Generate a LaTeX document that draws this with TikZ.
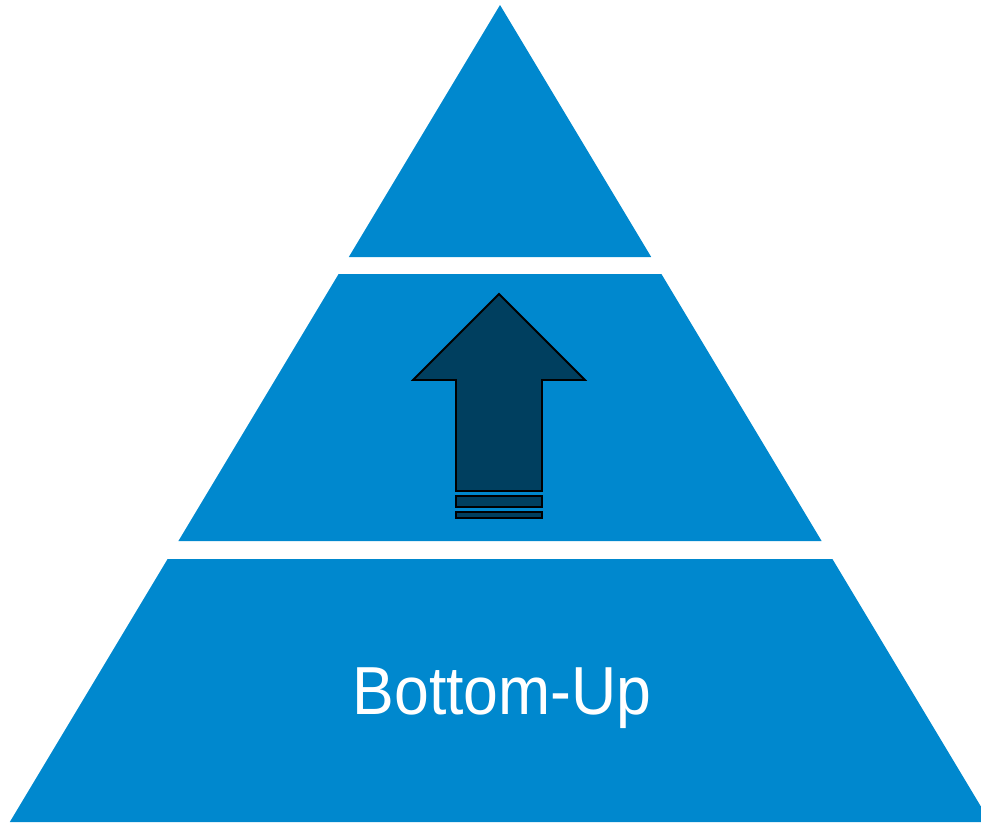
\documentclass[tikz,border=0pt]{standalone}
\usepackage{fontspec}
\setmainfont{Liberation Sans}
\definecolor{tierblue}{HTML}{0088CE}
\definecolor{arrowblue}{HTML}{003F5F}

\begin{document}
\begin{tikzpicture}[x=1pt, y=-1pt, tier/.style = {fill=tierblue}, uparrow/.style = {draw=black, line width=1.8pt, fill=arrowblue, line join=miter}]
    \useasboundingbox (0,0) rectangle (981,822);
    \clip (0,0) rectangle (981,822);
    % three tiers of one pyramid
    \fill[tier] (500,5) -- (651.2,257) -- (348.8,257) -- cycle;
    \fill[tier] (338.6,274) -- (661.4,274) -- (821.6,541) -- (178.4,541) -- cycle;
    \fill[tier] (167.6,559) -- (832.4,559) -- (990.2,822) -- (9.8,822) -- cycle;
    % arrow pointing up
    \draw[uparrow] (499,294) -- (585,380) -- (542,380) -- (542,491) -- (456,491) -- (456,380) -- (413,380) -- cycle;
    \draw[uparrow] (456,496) rectangle (542,507);
    \draw[uparrow] (456,512) rectangle (542,518);
    \node[text=white, font=\fontsize{68}{80}\selectfont, anchor=base] (label) at (502,714) {\scalebox{0.92}[1]{Bottom-Up}};
\end{tikzpicture}
\end{document}
